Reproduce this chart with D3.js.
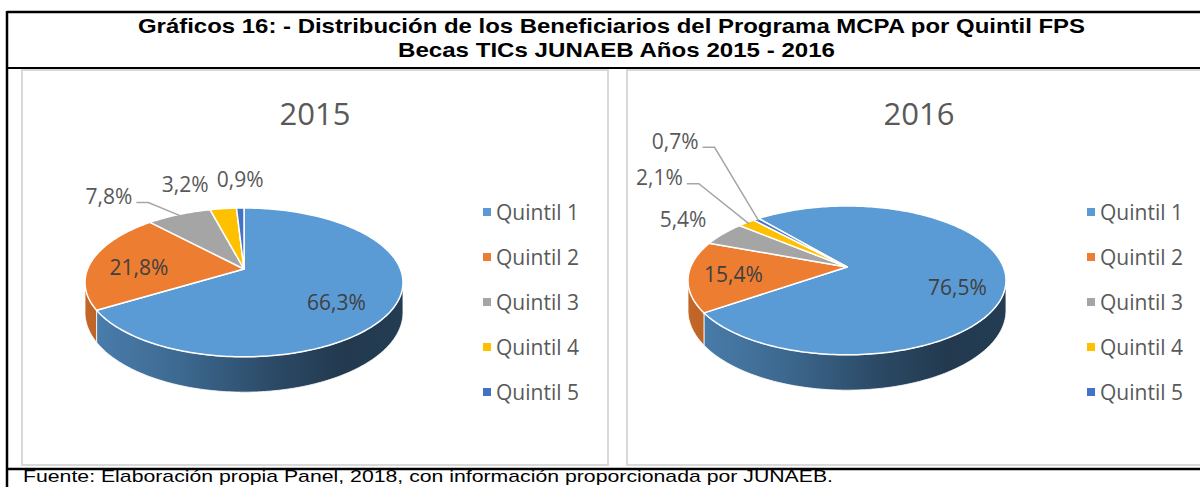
<!DOCTYPE html>
<html>
<head>
<meta charset="utf-8">
<script src="https://cdn.jsdelivr.net/npm/d3@7"></script>
<style>
  body { margin: 0; background: #fff; }
  svg { display: block; }
</style>
</head>
<body>
<svg width="1200" height="487"></svg>
<script>
// data
const quintiles = ["Quintil 1", "Quintil 2", "Quintil 3", "Quintil 4", "Quintil 5"];
const values2015 = [66.3, 21.8, 7.8, 3.2, 0.9];
const values2016 = [76.5, 15.4, 5.4, 2.1, 0.7];
const colors = ["#5b9bd5", "#ed7d31", "#a5a5a5", "#ffc000", "#4472c4"];
const titleLines = [
  "Gráficos 16: - Distribución de los Beneficiarios del Programa MCPA por Quintil FPS",
  "Becas TICs JUNAEB Años 2015 - 2016"
];
const sourceText = "Fuente: Elaboración propia Panel, 2018, con información proporcionada por JUNAEB.";

// label placement (inside: f = radius factor, outside: offset from rim)
const labelLayout2015 = [
  {f: 0.64, dy: 10}, {f: 0.69, dy: 5},
  {dx: -70, dy: -18, leader: true}, {dx: -38, dy: -24}, {dx: 0, dy: -29}
];
const labelLayout2016 = [
  {f: 0.70, dy: 14}, {f: 0.72, dy: 1},
  {dx: -40, dy: -14}, {dx: -87, dy: -45, leader: true}, {dx: -81, dy: -78, leader: true}
];

const panels = [
  {year: "2015", values: values2015, layout: labelLayout2015, x0: 22, x1: 608, cx: 244, cy: 269, start: 0},
  {year: "2016", values: values2016, layout: labelLayout2016, x0: 627, x1: 1211, cx: 847, cy: 267, start: -40}
];

const svg = d3.select("svg");
const defs = svg.append("defs");
const fmt = d3.formatLocale({decimal: ",", thousands: ".", grouping: [3], currency: ["$", ""]}).format(".1f");
const rad = d => d * Math.PI / 180;

// pie geometry (3D look with a little perspective)
const RX = 156.4, RY = 72, K = 0.18, H = 29;
const FRONT = [rad(100), rad(260)];

function proj(p, theta, f, lift) {
  const X = Math.sin(theta) * f, Z = Math.cos(theta) * f;
  const s = 1 / (1 + K * Z);
  return [p.cx + RX * X * s, p.cy - RY * Z * s + lift * H * s];
}
function arcPts(p, a0, a1, lift) {
  const n = Math.max(2, Math.ceil(Math.abs(a1 - a0) / 0.02));
  return d3.range(n + 1).map(i => proj(p, a0 + (a1 - a0) * i / n, 1, lift));
}
const line = d3.line();

// frame
svg.append("rect").attr("x", 0).attr("y", 0).attr("width", 1200).attr("height", 487).attr("fill", "#fff");
panels.forEach(p => {
  svg.append("rect")
    .attr("x", p.x0).attr("y", 70).attr("width", p.x1 - p.x0).attr("height", 395)
    .attr("fill", "#fff").attr("stroke", "#d9d9d9").attr("stroke-width", 2);
});
svg.append("line").attr("x1", 7).attr("x2", 1200).attr("y1", 12).attr("y2", 12).attr("stroke", "#000").attr("stroke-width", 2.5);
svg.append("line").attr("x1", 7).attr("x2", 1200).attr("y1", 68).attr("y2", 68).attr("stroke", "#000").attr("stroke-width", 2);
svg.append("line").attr("x1", 7).attr("x2", 1200).attr("y1", 469).attr("y2", 469).attr("stroke", "#000").attr("stroke-width", 2.5);
svg.append("line").attr("x1", 7).attr("x2", 7).attr("y1", 11).attr("y2", 487).attr("stroke", "#000").attr("stroke-width", 2.5);

// titles
const titlePos = [{x: 138, y: 33, w: 947}, {x: 398, y: 57, w: 437}];
titleLines.forEach((t, i) => {
  svg.append("text")
    .attr("x", titlePos[i].x).attr("y", titlePos[i].y)
    .attr("textLength", titlePos[i].w).attr("lengthAdjust", "spacingAndGlyphs")
    .style("font-family", "Liberation Sans, Arial, sans-serif")
    .style("font-weight", "bold").style("font-size", "20.5px").attr("fill", "#000")
    .text(t);
});
svg.append("text")
  .attr("x", 23).attr("y", 482)
  .attr("textLength", 810).attr("lengthAdjust", "spacingAndGlyphs")
  .style("font-family", "Liberation Sans, Arial, sans-serif")
  .style("font-size", "17px").attr("fill", "#000")
  .text(sourceText);

const pie = d3.pie().sort(null).value(d => d);

panels.forEach((p, pi) => {
  const g = svg.append("g");
  const midX = (p.x0 + p.x1) / 2;

  g.append("text")
    .attr("x", midX).attr("y", 125).attr("text-anchor", "middle")
    .style("font-family", "Open Sans, sans-serif").style("font-size", "31px")
    .attr("fill", "#595959").text(p.year);

  const arcs = pie.startAngle(rad(p.start)).endAngle(rad(p.start) + 2 * Math.PI)(p.values);

  // side gradients
  colors.forEach((c, ci) => {
    const grad = defs.append("linearGradient")
      .attr("id", `side-${pi}-${ci}`).attr("gradientUnits", "userSpaceOnUse")
      .attr("x1", p.cx - RX * 1.02).attr("x2", p.cx + RX * 1.02).attr("y1", 0).attr("y2", 0);
    [[0, 0.55], [0.3, 1.1], [0.6, 2.1], [0.82, 2.8], [1, 2.6]].forEach(([o, k]) => {
      grad.append("stop").attr("offset", o).attr("stop-color", d3.color(c).darker(k));
    });
  });

  // walls
  arcs.forEach((a, i) => {
    [0, -2 * Math.PI, 2 * Math.PI].forEach(off => {
      const lo = Math.max(a.startAngle, FRONT[0] + off), hi = Math.min(a.endAngle, FRONT[1] + off);
      if (hi > lo) {
        const pts = arcPts(p, lo, hi, 0).concat(arcPts(p, hi, lo, 1));
        g.append("path").attr("d", line(pts) + "Z")
          .attr("fill", `url(#side-${pi}-${i})`)
          .attr("stroke", "#fff").attr("stroke-width", 0.8);
      }
    });
  });

  // top faces
  g.selectAll("path.top").data(arcs).join("path")
    .attr("class", "top")
    .attr("d", a => line([[p.cx, p.cy]].concat(arcPts(p, a.startAngle, a.endAngle, 0))) + "Z")
    .attr("fill", (a, i) => colors[i])
    .attr("stroke", "#fff").attr("stroke-width", 1.5).attr("stroke-linejoin", "round");

  // data labels
  arcs.forEach((a, i) => {
    const L = p.layout[i];
    const mid = (a.startAngle + a.endAngle) / 2;
    let x, y;
    if (L.f !== undefined) {
      [x, y] = proj(p, mid, L.f, 0);
      y += L.dy;
    } else {
      const rim = proj(p, mid, 1, 0);
      x = rim[0] + L.dx; y = rim[1] + L.dy;
    }
    const t = g.append("text")
      .attr("x", x).attr("y", y).attr("dy", "0.36em").attr("text-anchor", "middle")
      .style("font-family", "Open Sans, sans-serif").style("font-size", "21px")
      .attr("fill", L.f !== undefined ? "#404040" : "#595959").text(fmt(a.data) + "%");
    if (L.leader) {
      const bb = t.node().getBBox();
      const right = bb.x + bb.width, ly = y + 6;
      const rim = proj(p, mid, 0.97, 0);
      g.append("path")
        .attr("d", line([[right + 4, ly], [right + 16, ly], rim]))
        .attr("fill", "none").attr("stroke", "#a6a6a6").attr("stroke-width", 1.5);
    }
  });

  // legend
  const legendY = d3.scalePoint().domain(quintiles).range([212, 392]);
  const lx = midX + 168;
  const lg = g.selectAll("g.leg").data(quintiles).join("g").attr("class", "leg")
    .attr("transform", d => `translate(${lx},${legendY(d)})`);
  lg.append("rect").attr("x", 0).attr("y", -4).attr("width", 8).attr("height", 8)
    .attr("fill", (d, i) => colors[i]);
  lg.append("text").attr("x", 13).attr("dy", "0.36em")
    .style("font-family", "Open Sans, sans-serif").style("font-size", "21px")
    .attr("fill", "#595959").text(d => d);
});
</script>
</body>
</html>
